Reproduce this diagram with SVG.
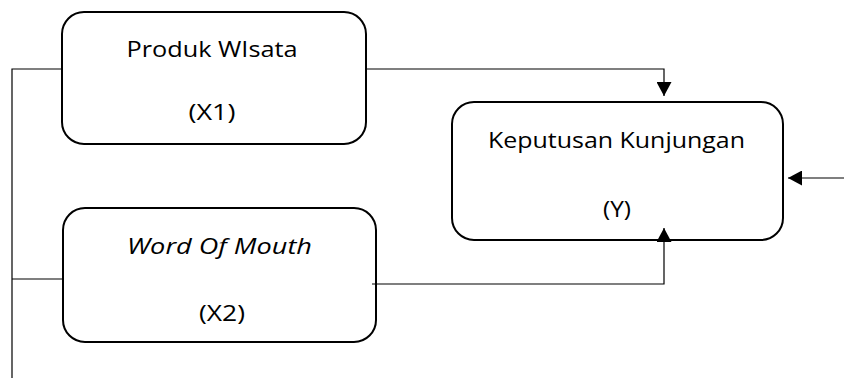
<svg xmlns="http://www.w3.org/2000/svg" width="844" height="381" viewBox="0 0 844 381">
<style>
.box{fill:#fff;stroke:#000;stroke-width:2}
.lbl{font-family:"Open Sans","Liberation Sans",sans-serif;font-size:22px;fill:#000;text-anchor:middle}
.it{font-style:italic}
.con{fill:none;stroke:#000;stroke-width:1.2}
</style>
<defs>
<marker id="ah" markerUnits="userSpaceOnUse" markerWidth="15" markerHeight="15" refX="14" refY="7.5" orient="auto">
<path d="M0,0 L14,7.5 L0,15 z" fill="#000"/>
</marker>
</defs>
<g id="x1">
<rect class="box" x="62" y="12" width="304" height="132" rx="22"/>
<text class="lbl" x="212" y="57" textLength="171" lengthAdjust="spacingAndGlyphs">Produk WIsata</text>
<text class="lbl" x="212" y="120" textLength="47" lengthAdjust="spacingAndGlyphs">(X1)</text>
</g>
<g id="x2">
<rect class="box" x="63" y="208" width="313" height="134" rx="22"/>
<text class="lbl it" x="219.5" y="254" textLength="185" lengthAdjust="spacingAndGlyphs">Word Of Mouth</text>
<text class="lbl" x="222" y="321" textLength="46" lengthAdjust="spacingAndGlyphs">(X2)</text>
</g>
<g id="y">
<rect class="box" x="452" y="102" width="331" height="138" rx="22"/>
<text class="lbl" x="616.5" y="148" textLength="257" lengthAdjust="spacingAndGlyphs">Keputusan Kunjungan</text>
<text class="lbl" x="617" y="217" textLength="28" lengthAdjust="spacingAndGlyphs">(Y)</text>
</g>
<g id="connectors">
<polyline class="con" points="61,69 12,69 12,378"/>
<line class="con" x1="12" y1="279" x2="62" y2="279"/>
<polyline class="con" points="367,69 664,69 664,96" marker-end="url(#ah)"/>
<polyline class="con" points="372,284 664,284 664,228" marker-end="url(#ah)"/>
<line class="con" x1="844" y1="178" x2="788" y2="178" marker-end="url(#ah)"/>
</g>
</svg>
